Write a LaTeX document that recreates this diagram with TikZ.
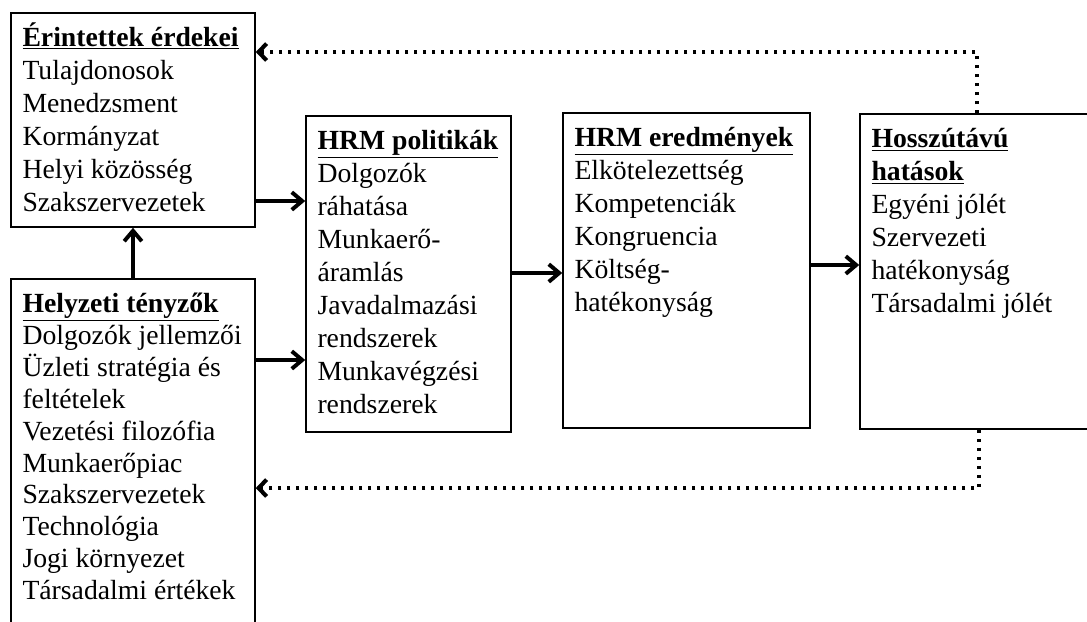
\documentclass[tikz,border=0pt]{standalone}
\usepackage{fontspec}
\setmainfont{Liberation Serif}
\usepackage{tikz}
\usetikzlibrary{positioning,calc}
\usetikzlibrary{arrows.meta}
\newcommand{\elso}{\rule{0pt}{0.85cm}}
\tikzstyle{doboz} = [rectangle, draw=black, line width=1.1pt, inner sep=0pt]
\tikzstyle{szoveg} = [inner sep=0pt, anchor=north west, align=left, font=\fontsize{19.7}{23.5}\selectfont]
\tikzstyle{arrow} = [line width=2.8pt, -{Straight Barb[length=2.6mm,width=4.4mm]}]
\tikzstyle{visszacsatolas} = [line width=2.9pt, dash pattern=on 2.6pt off 3.8pt, -{Straight Barb[length=2mm,width=4.2mm]}]

\begin{document}
\begin{tikzpicture}
\clip (0,0) rectangle (27.175,-15.525);
\node (e1) at (3.325,-3.0) [doboz, minimum width=6.1cm, minimum height=5.35cm] {};
\node (e2) at (3.325,-11.3375) [doboz, minimum width=6.1cm, minimum height=8.725cm] {};
\node (e3) at (10.2125,-6.85) [doboz, minimum width=5.125cm, minimum height=7.9cm] {};
\node (e4) at (17.1625,-6.7625) [doboz, minimum width=6.175cm, minimum height=7.875cm] {};
\node (e5) at (24.45,-6.7875) [doboz, minimum width=5.9cm, minimum height=7.875cm] {};

\node (t1) at ($(e1.north west)+(0.3,0)$) [szoveg] {\elso\underline{\textbf{Érintettek érdekei}}\\ Tulajdonosok\\ Menedzsment\\ Kormányzat\\ Helyi közösség\\ Szakszervezetek};
\node (t2) at ($(e2.north west)+(0.3,0)$) [szoveg, font=\fontsize{19.7}{22.7}\selectfont] {\elso\underline{\textbf{Helyzeti tényzők}}\\ Dolgozók jellemzői\\ Üzleti stratégia és\\ feltételek\\ Vezetési filozófia\\ Munkaerőpiac\\ Szakszervezetek\\ Technológia\\ Jogi környezet\\ Társadalmi értékek};
\node (t3) at ($(e3.north west)+(0.3,0)$) [szoveg] {\elso\underline{\textbf{HRM politikák}}\\ Dolgozók\\ ráhatása\\ Munkaerő-\\ áramlás\\ Javadalmazási\\ rendszerek\\ Munkavégzési\\ rendszerek};
\node (t4) at ($(e4.north west)+(0.3,0)$) [szoveg] {\elso\underline{\textbf{HRM eredmények}}\\ Elkötelezettség\\ Kompetenciák\\ Kongruencia\\ Költség-\\ hatékonyság};
\node (t5) at ($(e5.north west)+(0.3,0)$) [szoveg] {\elso\underline{\textbf{Hosszútávú}}\\ \underline{\textbf{hatások}}\\ Egyéni jólét\\ Szervezeti\\ hatékonyság\\ Társadalmi jólét};

\coordinate (k1) at (24.425,-1.3);
\coordinate (k2) at (24.475,-12.2);

\draw[arrow] (e1.east |- 0,-5.025) -- (e3.west |- 0,-5.025);
\draw[arrow] (e2.east |- 0,-9.0) -- (e3.west |- 0,-9.0);
\draw[arrow] (e3.east |- 0,-6.825) -- (e4.west |- 0,-6.825);
\draw[arrow] (e4.east |- 0,-6.625) -- (e5.west |- 0,-6.625);
\draw[arrow] (e2.north) -- (e1.south);
\draw[visszacsatolas] (e5.north -| k1) -- (k1) -- (e1.east |- k1);
\draw[visszacsatolas] (e5.south -| k2) -- (k2) -- (e2.east |- k2);
\end{tikzpicture}
\end{document}
